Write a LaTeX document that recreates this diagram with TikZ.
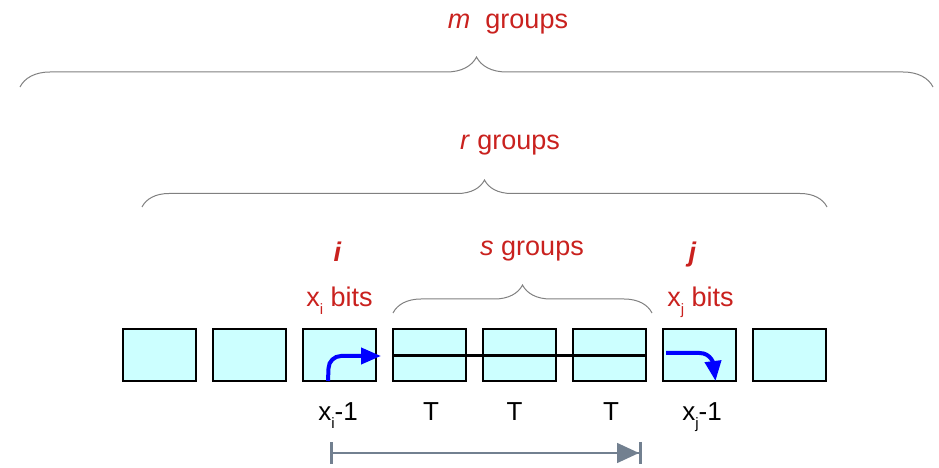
\documentclass[tikz,border=0pt]{standalone}
\usepackage{fontspec}
\setmainfont{Liberation Sans}
\usetikzlibrary{arrows.meta,positioning,calc,decorations.pathreplacing}
\definecolor{grpred}{HTML}{C9211E}
\definecolor{cellcyan}{HTML}{CCFFFF}
\definecolor{slate}{HTML}{728090}
\definecolor{bracegray}{HTML}{808080}
\newcommand{\sbx}[1]{\raisebox{-8pt}{\fontsize{15}{15}\selectfont #1}}
\tikzset{
  cell/.style={draw, rectangle, fill=cellcyan, minimum width=73pt, minimum height=52pt, line width=2.6pt, outer sep=0pt},
  lbl/.style={font=\fontsize{26}{30}\selectfont, anchor=base, inner sep=0pt},
  rlbl/.style={font=\fontsize{27}{30}\selectfont, text=grpred, anchor=base, inner sep=0pt},
  brc/.style={decorate, decoration={brace, amplitude=#1}, draw=bracegray, line width=1pt},
  barr/.style={-{Triangle[length=20pt, width=16pt]}, blue, line width=4pt},
  rng/.style={{Bar[width=22pt, line width=3pt]}-{Triangle[length=22pt, width=20pt]Bar[width=22pt, line width=3pt]}, draw=slate, line width=1.5pt},
}
\begin{document}
\begin{tikzpicture}[x=1pt, y=1pt]
\useasboundingbox (0,0) rectangle (939,468);

% row of groups
\node[cell] (b1) at (159.5,113) {};
\node[cell, right=17pt of b1] (b2) {};
\node[cell, right=17pt of b2] (b3) {};
\node[cell, right=17pt of b3] (b4) {};
\node[cell, right=17pt of b4] (b5) {};
\node[cell, right=17pt of b5] (b6) {};
\node[cell, right=17pt of b6] (b7) {};
\node[cell, right=17pt of b7] (b8) {};

\draw[line width=3pt] ($(b4.west)+(0,-1)$) -- ($(b6.east)+(0,-1)$);
\draw[barr, rounded corners=12pt] ($(b3.south)+(-11.5,0)$) -- ($(b3.west)+(26,-1)$) -- ($(b3.east)+(5,-1)$);
\draw[barr] ($(b7.west)+(3,2)$) -- ($(b7.center)+(0,2)$) .. controls ($(b7.center)+(12,2)$) and ($(b7.center)+(14,-10)$) .. ($(b7.south)+(16,0)$);

% labels under the row
\node[lbl] (li) at ($(b3.south)+(-1.5,-40)$) {x\sbx{i}-1};
\node[lbl] (t1) at ($(b4.south)+(1.5,-40)$) {T};
\node[lbl] (t2) at ($(b5.south)+(-5,-40)$) {T};
\node[lbl] (t3) at ($(b6.south)+(1.5,-40)$) {T};
\node[lbl] (lj) at ($(b7.south)+(2.5,-40)$) {x\sbx{j}-1};

\coordinate (ga) at (330,15);
\coordinate (gb) at (642,15);
\draw[rng] (ga) -- (gb);

% labels above the row
\node[rlbl] (ii) at ($(b3.north)+(-2,67)$) {\textbf{\textit{i}}};
\node[rlbl] (xi) at ($(b3.north)+(0,22)$) {x\sbx{i} bits};
\node[rlbl] (jj) at ($(b7.north)+(-7,67)$) {\textbf{\textit{j}}};
\node[rlbl] (xj) at ($(b7.north)+(1,22)$) {x\sbx{j} bits};

% braces
\coordinate (s1) at (393,155);
\coordinate (s2) at (652,155);
\draw[brc=28pt] (s1) -- (s2);
\node[rlbl] (sg) at (532,212) {\textit{s} groups};

\coordinate (r1) at (142,261);
\coordinate (r2) at (827,261);
\draw[brc=27pt] (r1) -- (r2);
\node[rlbl] (rg) at (510,318) {\textit{r} groups};

\coordinate (m1) at (20,381);
\coordinate (m2) at (933,381);
\draw[brc=30pt] (m1) -- (m2);
\node[rlbl] (mg) at (508,439) {\textit{m}\ \ groups};

\end{tikzpicture}
\end{document}
